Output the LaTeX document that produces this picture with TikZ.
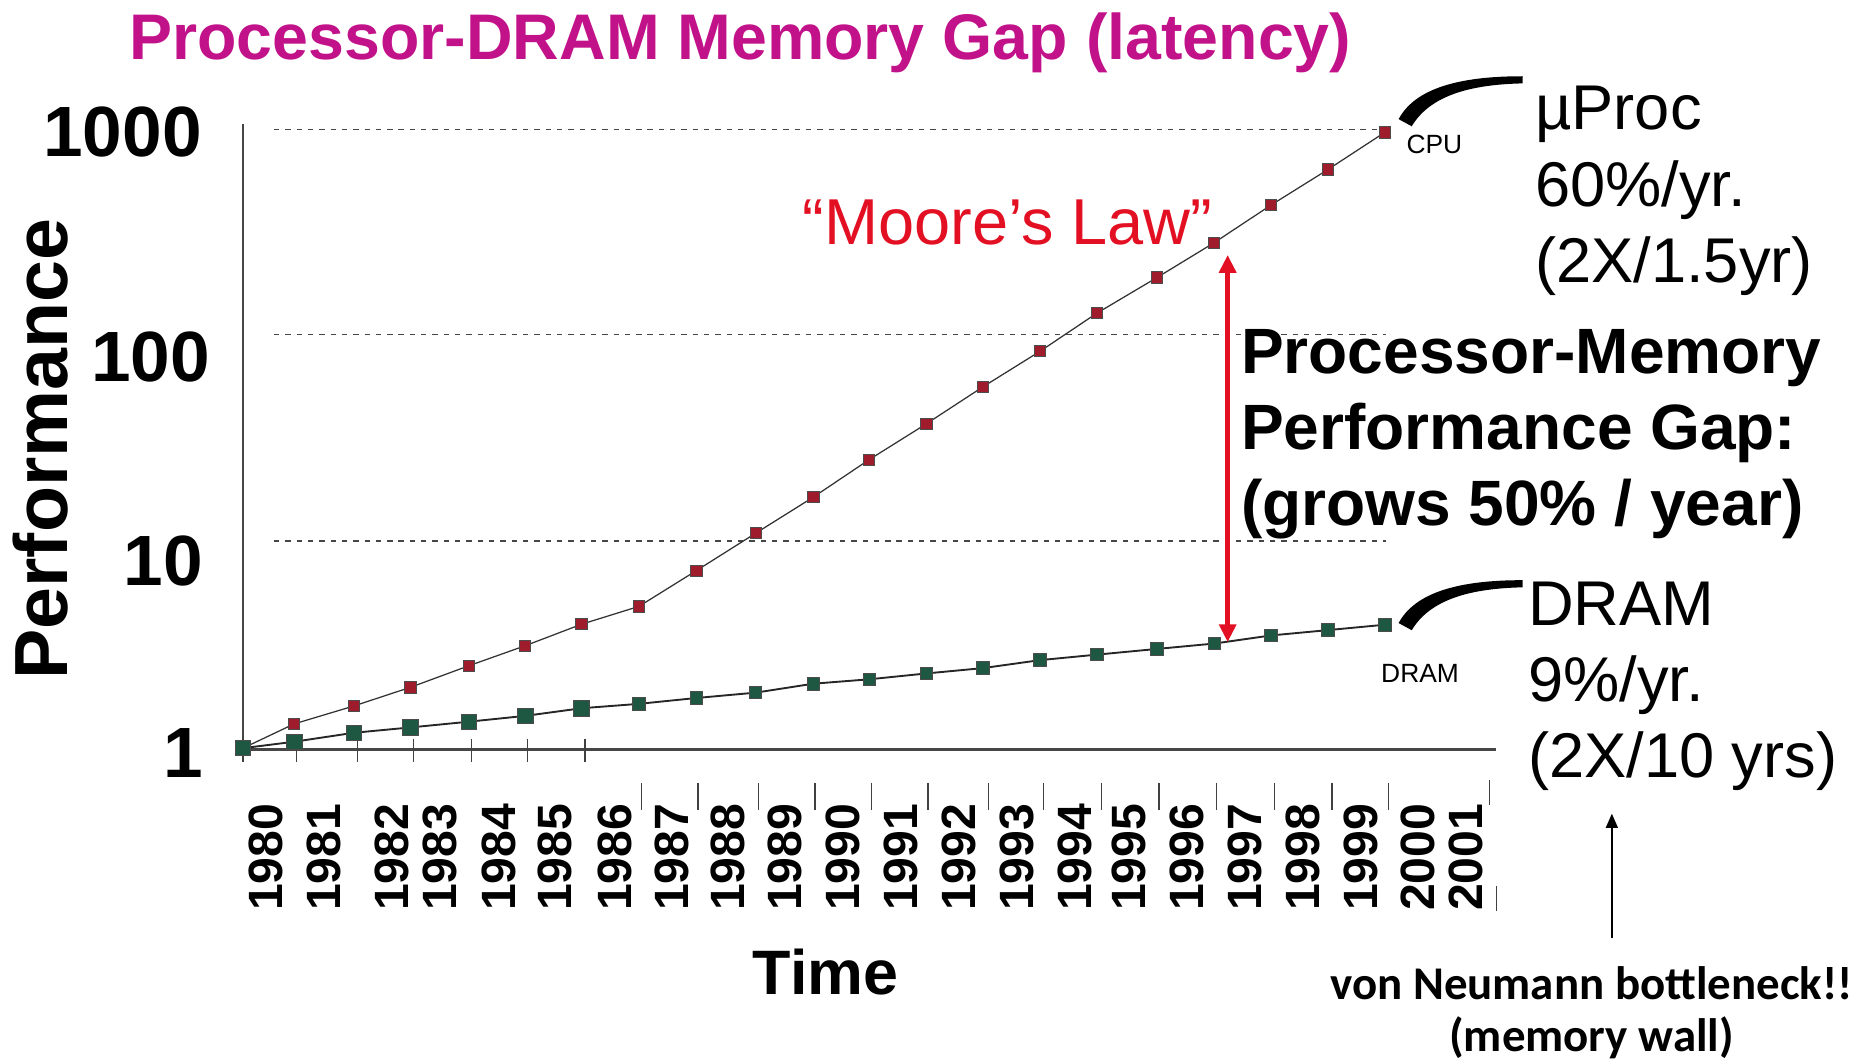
\documentclass[tikz,border=0pt]{standalone}
\usepackage{fontspec}
\setmainfont{Liberation Sans}
\newfontfamily\calibri{Carlito}
\usetikzlibrary{arrows.meta}

\definecolor{titlemagenta}{RGB}{194,18,138}
\definecolor{cpured}{RGB}{158,28,44}
\definecolor{dramgreen}{RGB}{30,88,66}
\definecolor{axisgray}{RGB}{70,70,70}
\definecolor{mooresred}{RGB}{226,16,34}

\tikzset{
  title/.style={anchor=base west,inner sep=0pt,text=titlemagenta,font=\bfseries\fontsize{15.4}{18}\selectfont},
  axis/.style={axisgray,line width=0.6pt},
  grid/.style={axisgray,line width=0.35pt,dash pattern=on 0.45mm off 0.5mm},
  tick/.style={black!75,line width=0.3pt},
  ylabel/.style={anchor=east,inner sep=0pt,font=\bfseries\fontsize{17}{20}\selectfont},
  yearlabel/.style={rotate=90,anchor=east,inner sep=0pt,font=\bfseries\fontsize{11.5}{12}\selectfont},
  cpuline/.style={black!80,line width=0.3pt},
  dramline/.style={black!85,line width=0.45pt},
  cpubox/.style={rectangle,fill=cpured,draw=black!70,line width=0.2pt,minimum size=0.95mm,inner sep=0pt},
  drambox/.style={rectangle,fill=dramgreen,draw=black!70,line width=0.2pt,minimum size=1.05mm,inner sep=0pt},
  moore/.style={anchor=base west,inner sep=0pt,text=mooresred,font=\fontsize{15.5}{18}\selectfont},
  ratetext/.style={anchor=base west,align=left,inner sep=0pt,font=\fontsize{15.1}{18.2}\selectfont},
  gaptext/.style={anchor=base west,align=left,inner sep=0pt,font=\bfseries\fontsize{15.3}{18.1}\selectfont},
  smalllabel/.style={inner sep=0pt,font=\fontsize{6.3}{7}\selectfont},
  gaparrow/.style={mooresred,line width=1.3pt,{Triangle[length=1.5mm,width=1.4mm]}-{Triangle[length=1.5mm,width=1.4mm]}},
  wallarrow/.style={black,line width=0.5pt,-{Triangle[length=1.2mm,width=1.0mm]}},
  vnlabel/.style={anchor=base,align=center,inner sep=0pt,font=\calibri\bfseries\fontsize{11.2}{12.5}\selectfont}
}

\begin{document}
\begin{tikzpicture}[x=0.1mm,y=-0.1mm]
\useasboundingbox (0,0) rectangle (1568,891);

% Titel
\node[title] (title) at (108,50) {Processor-DRAM Memory Gap (latency)};

% Achsen
\draw[axis] (204,104) -- (204,629) -- (1256,629);
\foreach \y in {108.5,281,454} {
  \draw[grid] (230,\y) -- (1163,\y);
}
\foreach \x in {204,249,300,347,396,443,491} {
  \draw[tick] (\x,620) -- (\x,640);
}
\foreach \x in {538.6,586,636.4,684,731.5,779,829.5,875.9,924.4,972.9,1021.3,1069.8,1118,1165.4} {
  \draw[tick] (\x,657) -- (\x,680);
}
\draw[tick] (1250,655) -- (1250,676);
\draw[tick] (1256,744) -- (1256,765);

% Beschriftung y
\node[ylabel] (y1000) at (170,111) {1000};
\node[ylabel] (y100) at (177,300) {100};
\node[ylabel] (y10) at (171,471) {10};
\node[ylabel] (y1) at (171,632) {1};
\node[rotate=90,inner sep=0pt,font=\bfseries\fontsize{18}{20}\selectfont] (perf) at (34,377) {Performance};

% Beschriftung x
\foreach \yr/\x in {1980/223.6,1981/272.3,1982/329.4,1983/369.7,1984/418.5,1985/465.8,1986/516,
  1987/564.3,1988/611,1989/658.6,1990/707.3,1991/756,1992/804.7,1993/853.5,1994/902.2,
  1995/947.4,1996/996.1,1997/1044.9,1998/1093.6,1999/1142,2000/1190.3,2001/1230.5} {
  \node[yearlabel] (yr\yr) at (\x,674) {\yr};
}
\node[anchor=base,inner sep=0pt,font=\bfseries\fontsize{15}{18}\selectfont] (time) at (693,835) {Time};

% Messwerte CPU / DRAM
\foreach \n/\x/\c/\d in {0/204/628/628,1/247/607.6/622.6,2/297/592.6/615.1,3/344.6/576.9/610.6,
  4/393.4/558.9/605.8,5/440.9/542/600.9,6/488.1/524/594.5,7/536.3/509/590.8,8/584.5/479/585.9,
  9/634.3/447.6/581.4,10/682.7/417.3/573.9,11/729.6/385.8/570.2,12/777.5/355.8/565.3,
  13/825.1/324.7/560.8,14/873.1/294.8/554.1,15/920.7/262.9/549.5,16/971.3/232.9/544.7,
  17/1019.2/203.7/540.2,18/1066.8/172.2/533.4,19/1114.8/142.2/528.9,20/1162.4/111.1/524.4} {
  \coordinate (cp\n) at (\x,\c);
  \coordinate (dr\n) at (\x,\d);
}
\foreach \n [remember=\n as \m (initially 0)] in {1,...,20} {
  \draw[cpuline] (cp\m) -- (cp\n);
  \draw[dramline] (dr\m) -- (dr\n);
}
\foreach \n in {1,...,20} {
  \node[cpubox] (cpu\n) at (cp\n) {};
}
\foreach \n in {0,...,6} {
  \node[drambox,minimum size=1.3mm] (dram\n) at (dr\n) {};
}
\foreach \n in {7,...,20} {
  \node[drambox] (dram\n) at (dr\n) {};
}
\node[smalllabel] (cpulbl) at (1204,121) {CPU};
\node[smalllabel] (dramlbl) at (1192,565) {DRAM};

% Moore
\node[moore] (moore) at (673,205) {“Moore’s Law”};

% Luecke
\coordinate (gaptop) at (1030.5,214);
\coordinate (gapbot) at (1030.5,539);
\draw[gaparrow] (gaptop) -- (gapbot);
\node[gaptext] (gap) at (1041,441) {Processor-Memory\\Performance Gap:\\(grows 50\% / year)};

% Raten rechts
\node[ratetext] (uproc) at (1288,237) {µProc\\60\%/yr.\\(2X/1.5yr)};
\node[ratetext] (dramrate) at (1282,653) {DRAM\\9\%/yr.\\(2X/10 yrs)};
\coordinate (cpuhook) at (1278,64);
\coordinate (dramhook) at (1278,487);
\foreach \h in {cpuhook,dramhook} {
  \fill[shift={(\h)}] (0,0) .. controls (-53,0) and (-90,10) .. (-104,36)
    -- (-93,42) .. controls (-78,17) and (-46,7) .. (0,6) -- cycle;
}

% von Neumann
\node[vnlabel] (vn) at (1336,883) {von Neumann bottleneck!!\\(memory wall)};
\coordinate (walltip) at (1353,683);
\draw[wallarrow] ([yshift=2.3mm]vn.north -| walltip) -- (walltip);
\end{tikzpicture}
\end{document}
